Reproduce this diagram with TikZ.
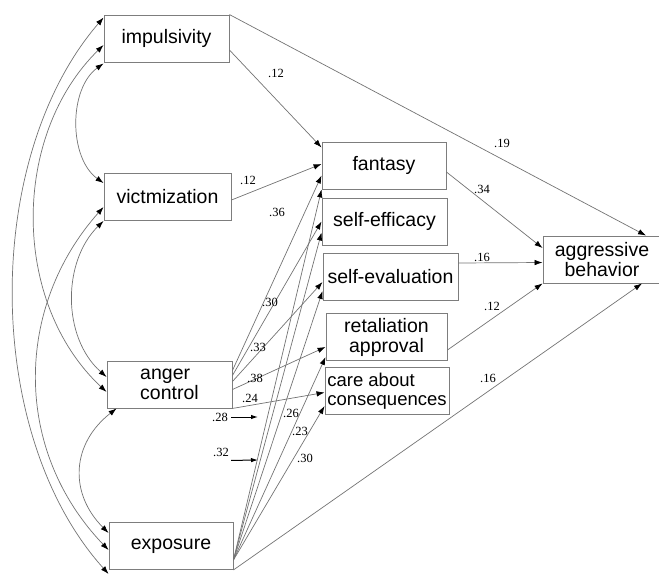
\documentclass[tikz,border=0pt]{standalone}
\usepackage{fontspec}
\setmainfont{Liberation Serif}
\setsansfont{Liberation Sans}
\usepackage{tikz}
\usetikzlibrary{arrows.meta}
\definecolor{BoxGray}{RGB}{125,125,125}
\definecolor{LineGray}{RGB}{115,115,115}

\tikzset{
  varbox/.style={draw=BoxGray,line width=0.9pt,minimum height=47pt,inner xsep=1pt,
    font=\sffamily\fontsize{19.5}{20}\selectfont,align=center},
  effect/.style={draw=LineGray,line width=0.7pt,-{Latex[length=8pt,width=5.5pt,color=black]}},
  cov/.style={draw=LineGray,line width=0.7pt,
    {Latex[length=8pt,width=5.5pt,color=black]}-{Latex[length=8pt,width=5.5pt,color=black]}},
  coef/.style={font=\rmfamily\fontsize{12.5}{12.5}\selectfont,inner sep=0pt},
  pointer/.style={draw=black,line width=1pt,-{Latex[length=7pt,width=4.5pt]}}
}

\begin{document}
\begin{tikzpicture}[x=1pt,y=-1pt]
  \useasboundingbox (0,0) rectangle (659,576);

  % predictors
  \node[varbox,minimum width=125pt] (imp) at (166.5,38.5) {impulsivity};
  \node[varbox,minimum width=127pt] (vic) at (167.5,197) {victmization};
  \node[varbox,minimum width=125pt,align=left] (ang) at (169.5,384.5) {anger\\control};
  \node[varbox,minimum width=124pt] (exp) at (171,546) {exposure};

  % mediators and outcome
  \node[varbox,minimum width=124pt] (fan) at (384,165.5) {fantasy};
  \node[varbox,minimum width=125pt] (eff) at (384.5,221.5) {self-efficacy};
  \node[varbox,minimum width=135pt] (eva) at (390.5,277) {self-evaluation};
  \node[varbox,minimum width=121pt] (ret) at (386.5,337) {retaliation\\approval};
  \node[varbox,minimum width=124pt,align=left,font=\sffamily\fontsize{18.5}{19}\selectfont] (car) at (387,391) {care about\\consequences};
  \node[varbox,minimum width=118pt] (agg) at (602,259.5) {aggressive\\behavior};

  % correlations among predictors
  \draw[cov] ([yshift=-1pt]imp.south west) .. controls +(-35,25) and +(-35,-25) .. ([yshift=-10pt]vic.north west);
  \draw[cov] ([yshift=-6.5pt]imp.west) .. controls +(-92,90) and +(-96,-90) .. ([yshift=-7.5pt]ang.west);
  \draw[cov] ([yshift=-3pt]imp.north west) .. controls +(-121,140) and +(-126,-140) .. ([yshift=-4pt]exp.south west);
  \draw[cov] ([yshift=-10pt]vic.west) .. controls +(-89,100) and +(-96,-100) .. ([yshift=-4pt]exp.west);
  \draw[cov] (vic.south west) .. controls +(-41,40) and +(-45,-40) .. ([yshift=7.5pt]ang.west);
  \draw[cov] ([xshift=10pt]ang.south west) .. controls +(-45,35) and +(-40,-40) .. ([yshift=13pt]exp.west);

  % paths
  \draw[effect] ([yshift=-11.5pt]imp.east) -- ([yshift=18pt]fan.west);
  \draw[effect] (imp.north east) -- ([xshift=44pt]agg.north);
  \draw[effect] ([yshift=-3pt]vic.east) -- ([yshift=1.5pt]fan.west);
  \draw[effect] ([yshift=14pt]ang.east) -- ([yshift=-10pt]fan.west);
  \draw[effect] ([yshift=9pt]ang.east) -- (eff.west);
  \draw[effect] ([yshift=3pt]ang.east) -- ([yshift=-5pt]eva.west);
  \draw[effect] ([yshift=-5pt]ang.east) -- ([yshift=-10pt]ret.west);
  \draw[effect] (ang.south east) -- ([yshift=-1.5pt]car.west);
  \draw[effect] ([yshift=-14pt]exp.east) -- (fan.south west);
  \draw[effect] ([yshift=-14pt]exp.east) -- ([yshift=-11pt]eff.west);
  \draw[effect] ([yshift=-14pt]exp.east) -- ([yshift=-14pt]eva.west);
  \draw[effect] ([yshift=-14pt]exp.east) -- ([yshift=-20pt]ret.west);
  \draw[effect] ([yshift=-14pt]exp.east) -- ([yshift=-15pt]car.west);
  \draw[effect] (exp.south east) -- ([xshift=40pt]agg.south);
  \draw[effect] ([yshift=-6.5pt]fan.east) -- ([yshift=11.5pt]agg.west);
  \draw[effect] ([yshift=14pt]eva.east) -- ([yshift=-3pt]agg.west);
  \draw[effect] ([yshift=-13pt]ret.east) -- (agg.south west);

  % coefficients
  \node[coef] (cImpFan) at (276,73) {.12};
  \node[coef] (cImpAgg) at (502,143) {.19};
  \node[coef] (cVicFan) at (248,180) {.12};
  \node[coef] (cAngFan) at (277,212) {.36};
  \node[coef] (cAngEff) at (270,302) {.30};
  \node[coef] (cAngEva) at (258,347) {.33};
  \node[coef] (cAngRet) at (255,378) {.38};
  \node[coef] (cAngCar) at (250,398) {.24};
  \node[coef] (cExpFan) at (220,417) {.28};
  \node[coef] (cExpEff) at (221,452) {.32};
  \node[coef] (cExpEva) at (291,413) {.26};
  \node[coef] (cExpRet) at (300,431) {.23};
  \node[coef] (cExpCar) at (305,458) {.30};
  \node[coef] (cFanAgg) at (482,189) {.34};
  \node[coef] (cEvaAgg) at (482,257) {.16};
  \node[coef] (cRetAgg) at (492,306) {.12};
  \node[coef] (cExpAgg) at (488,378) {.16};

  \coordinate (pExpFan) at (258,417);
  \coordinate (pExpEff) at (258,460);
  \draw[pointer] ([xshift=3pt]cExpFan.east) -- (pExpFan);
  \draw[pointer] ([shift={(2pt,-4pt)}]cExpEff.south east) -- (pExpEff);
\end{tikzpicture}
\end{document}
